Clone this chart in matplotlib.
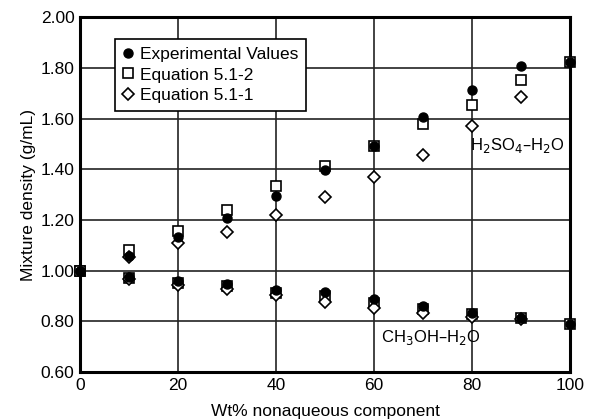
import matplotlib
matplotlib.use("Agg")
from matplotlib import pyplot as plt

# weight % of nonaqueous component
wt = [0, 10, 20, 30, 40, 50, 60, 70, 80, 90, 100]

# H2SO4-H2O
h2so4_exp = [1.000, 1.058, 1.134, 1.209, 1.295, 1.397, 1.492, 1.605, 1.713, 1.808, 1.822]
h2so4_eq2 = [1.000, 1.082, 1.158, 1.240, 1.334, 1.414, 1.492, 1.580, 1.652, 1.752, 1.822]
wt_eq1 = [10, 20, 30, 40, 50, 60, 70, 80, 90]
h2so4_eq1 = [1.052, 1.108, 1.154, 1.221, 1.290, 1.371, 1.456, 1.572, 1.684]

# CH3OH-H2O
meoh_exp = [1.000, 0.976, 0.959, 0.946, 0.924, 0.915, 0.887, 0.862, 0.832, 0.812, 0.789]
meoh_eq2 = [1.000, 0.972, 0.950, 0.938, 0.912, 0.900, 0.872, 0.850, 0.828, 0.812, 0.789]
meoh_eq1 = [0.967, 0.942, 0.928, 0.903, 0.877, 0.852, 0.834, 0.816, 0.810]

plt.rcParams['font.family'] = ['Liberation Sans', 'DejaVu Sans']
plt.rcParams['font.size'] = 12.5

fig = plt.figure(figsize=(5.89, 4.19), dpi=100)
ax = fig.add_axes([0.1358, 0.112, 0.832, 0.847])

sq = dict(marker='s', markersize=7.5, markerfacecolor='white', markeredgecolor='black',
          markeredgewidth=1.2, linestyle='none')
di = dict(marker='D', markersize=5.8, markerfacecolor='white', markeredgecolor='black',
          markeredgewidth=1.2, linestyle='none')
ci = dict(marker='o', markersize=6.5, color='black', linestyle='none')

ax.plot(wt, h2so4_eq2, zorder=3, clip_on=False, **sq)
ax.plot(wt, meoh_eq2, zorder=3, clip_on=False, **sq)
ax.plot(wt_eq1, h2so4_eq1, zorder=4, **di)
ax.plot(wt_eq1, meoh_eq1, zorder=4, **di)
ax.plot(wt, h2so4_exp, zorder=5, clip_on=False, **ci)
ax.plot(wt, meoh_exp, zorder=5, clip_on=False, **ci)

# legend handles
h1, = ax.plot([], [], label='Experimental Values', **ci)
h2, = ax.plot([], [], label='Equation 5.1-2', **sq)
h3, = ax.plot([], [], label='Equation 5.1-1', **di)
leg = ax.legend(handles=[h1, h2, h3], loc='upper left', bbox_to_anchor=(0.072, 0.938),
                frameon=True, fancybox=False, edgecolor='black', framealpha=1,
                handlelength=0.6, handletextpad=0.35, borderpad=0.45, labelspacing=0.3,
                borderaxespad=0, fontsize=12.5)
leg.get_frame().set_linewidth(1.2)
leg.set_zorder(6)

ax.text(79.5, 1.495, r'H$_2$SO$_4$–H$_2$O', fontsize=12, va='center', ha='left')
ax.text(61.5, 0.735, r'CH$_3$OH–H$_2$O', fontsize=12, va='center', ha='left')

ax.set_xlim(0, 100)
ax.set_ylim(0.6, 2.0)
ax.set_xticks([0, 20, 40, 60, 80, 100])
ax.set_yticks([0.6, 0.8, 1.0, 1.2, 1.4, 1.6, 1.8, 2.0])
ax.set_yticklabels(['%.2f' % v for v in ax.get_yticks()])
ax.tick_params(length=0, pad=4, labelsize=12.5)
ax.grid(True, color='#222222', linewidth=1.2)
ax.set_axisbelow(True)
for s in ax.spines.values():
    s.set_linewidth(2.2)

ax.set_xlabel('Wt% nonaqueous component', fontsize=12.5, labelpad=8)
ax.set_ylabel('Mixture density (g/mL)', fontsize=12.5, labelpad=3)

fig.savefig('out.png', dpi=100)
